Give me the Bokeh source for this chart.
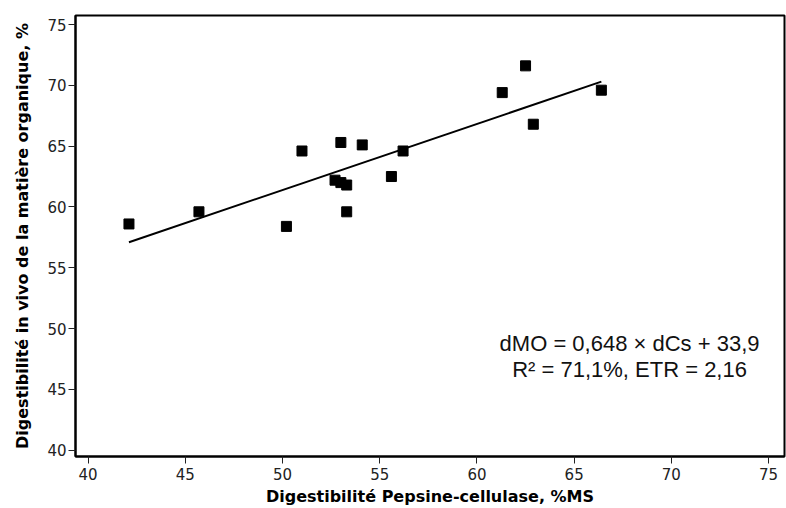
from bokeh.plotting import figure
from bokeh.models import Range1d, FixedTicker, Label
from bokeh.embed import file_html
from bokeh.resources import INLINE

# Data
dcs = [42.1, 45.7, 50.2, 51.0, 53.0, 54.1, 56.2, 55.6, 52.7, 53.0, 53.3, 53.3, 61.3, 62.5, 62.9, 66.4]
dmo = [58.6, 59.6, 58.4, 64.6, 65.3, 65.1, 64.6, 62.5, 62.2, 62.0, 61.8, 59.6, 69.4, 71.6, 66.8, 69.6]
fit_x = [42.1, 66.4]
fit_y = [57.1, 70.3]
x_ticks = [40, 45, 50, 55, 60, 65, 70, 75]
y_ticks = [40, 45, 50, 55, 60, 65, 70, 75]
eq_line1 = "dMO = 0,648 × dCs + 33,9"
eq_line2 = "R² = 71,1%, ETR = 2,16"

p = figure(width=786, height=508, output_backend="svg", toolbar_location=None,
           x_range=Range1d(39.35, 75.82), y_range=Range1d(39.48, 75.74),
           min_border_left=75, min_border_right=2, min_border_top=15, min_border_bottom=51)
p.background_fill_color = "white"
p.border_fill_color = "white"
p.outline_line_color = "black"
p.outline_line_width = 2
p.xgrid.visible = False
p.ygrid.visible = False

for ax, ticks in ((p.xaxis[0], x_ticks), (p.yaxis[0], y_ticks)):
    ax.ticker = FixedTicker(ticks=ticks)
    ax.minor_tick_line_color = None
    ax.major_tick_out = 7
    ax.major_tick_in = 0
    ax.major_tick_line_color = "#222222"
    ax.major_tick_line_width = 1
    ax.axis_line_color = "black"
    ax.axis_line_width = 2
    ax.major_label_text_font = "DejaVu Sans"
    ax.major_label_text_font_size = "15px"
    ax.major_label_text_color = "#222222"
    ax.axis_label_text_font = "DejaVu Sans"
    ax.axis_label_text_font_size = "16px"
    ax.axis_label_text_font_style = "bold"
    ax.axis_label_text_color = "black"

p.xaxis.axis_label = "Digestibilité Pepsine-cellulase, %MS"
p.yaxis.axis_label = "Digestibilité in vivo de la matière organique, %"
p.xaxis.major_label_standoff = 4
p.yaxis.major_label_standoff = 2
p.xaxis.axis_label_standoff = 4
p.yaxis.axis_label_standoff = 12

p.line(fit_x, fit_y, line_color="black", line_width=2)
p.scatter(dcs, dmo, marker="square", size=10, fill_color="black", line_color="black")

for txt, yv in ((eq_line1, 48.74), (eq_line2, 46.63)):
    p.add_layout(Label(x=67.85, y=yv, text=txt, text_align="center",
                       text_baseline="alphabetic", text_font="Liberation Sans",
                       text_font_size="22px", text_color="#111111"))

open("out.html", "w").write(file_html(p, INLINE))
